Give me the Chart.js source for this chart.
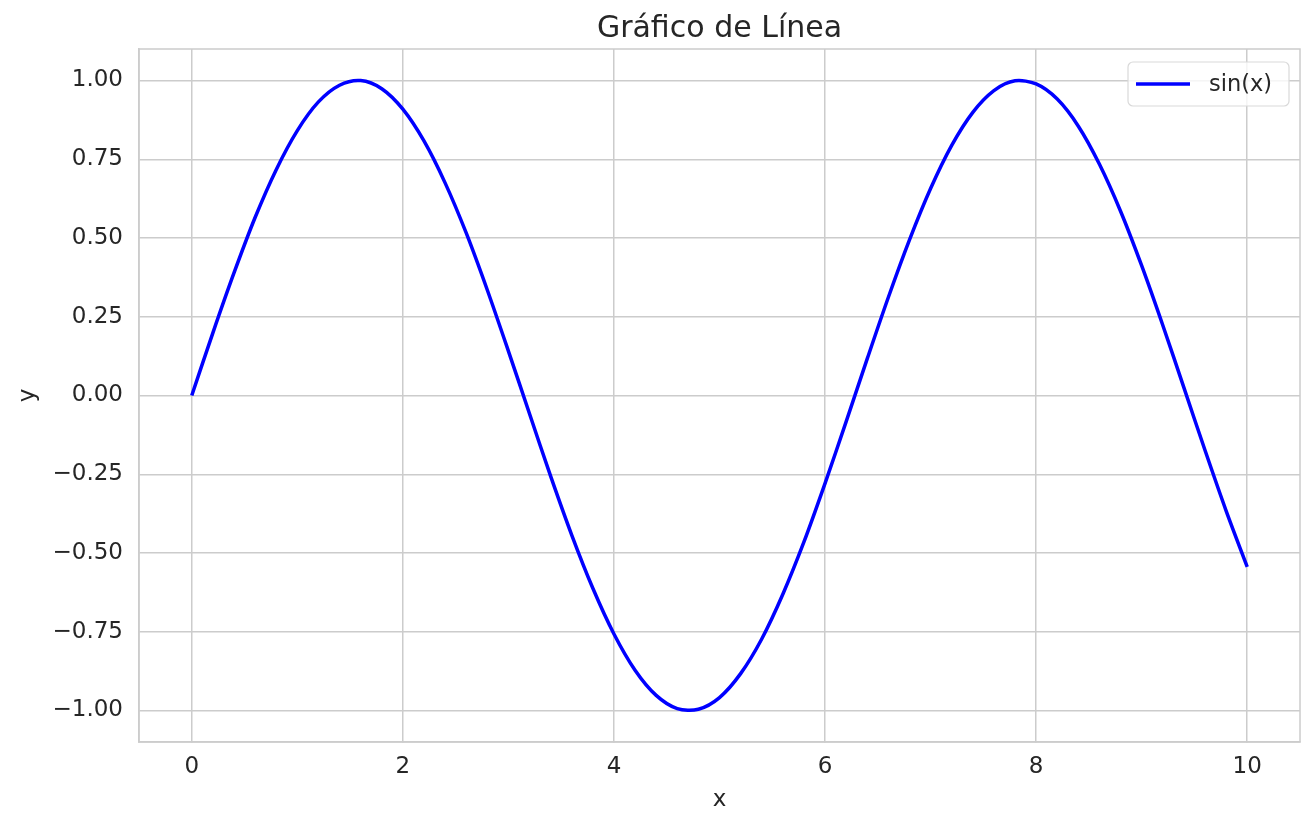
<!DOCTYPE html>
<html>
<head>
<meta charset="utf-8">
<script src="https://cdn.jsdelivr.net/npm/chart.js@4.4.1/dist/chart.umd.min.js"></script>
<style>
  html, body { margin: 0; padding: 0; background: #ffffff; }
  #wrap { width: 1316px; height: 829px; }
</style>
</head>
<body>
<div id="wrap"><canvas id="grafico" width="1316" height="829"></canvas></div>
<script>
// valores
const xValues = [0, 0.2, 0.4, 0.6, 0.8, 1.0, 1.2, 1.4, 1.6, 1.8, 2.0, 2.2, 2.4, 2.6, 2.8, 3.0,
  3.2, 3.4, 3.6, 3.8, 4.0, 4.2, 4.4, 4.6, 4.8, 5.0, 5.2, 5.4, 5.6, 5.8, 6.0, 6.2, 6.4, 6.6,
  6.8, 7.0, 7.2, 7.4, 7.6, 7.8, 8.0, 8.2, 8.4, 8.6, 8.8, 9.0, 9.2, 9.4, 9.6, 9.8, 10.0];
const sinValues = [0, 0.199, 0.389, 0.565, 0.717, 0.841, 0.932, 0.985, 1.000, 0.974, 0.909,
  0.808, 0.675, 0.516, 0.335, 0.141, -0.058, -0.256, -0.443, -0.612, -0.757, -0.872, -0.952,
  -0.994, -0.996, -0.959, -0.883, -0.773, -0.631, -0.465, -0.279, -0.083, 0.117, 0.312, 0.494,
  0.657, 0.794, 0.899, 0.968, 0.999, 0.989, 0.941, 0.855, 0.734, 0.585, 0.412, 0.223, 0.025,
  -0.174, -0.366, -0.544];
const xTicks = [0, 2, 4, 6, 8, 10];
const yTicks = [-1.00, -0.75, -0.50, -0.25, 0.00, 0.25, 0.50, 0.75, 1.00];
const chartTitle = 'Gráfico de Línea';

const FONT = "'DejaVu Sans', sans-serif";
const TEXT = '#262626';
const GRID = '#cccccc';

// marco completo del área (spines arriba y derecha)
const spines = {
    id: 'spines',
    beforeDatasetsDraw(chart) {
        const a = chart.chartArea;
        const ctx = chart.ctx;
        ctx.save();
        ctx.strokeStyle = GRID;
        ctx.lineWidth = 1.5;
        ctx.strokeRect(a.left, a.top, a.right - a.left, a.bottom - a.top);
        ctx.restore();
    }
};

// título centrado sobre el área de trazado (como matplotlib)
const axesTitle = {
    id: 'axesTitle',
    afterDraw(chart) {
        const a = chart.chartArea;
        const ctx = chart.ctx;
        ctx.save();
        ctx.fillStyle = TEXT;
        ctx.font = '30px ' + FONT;
        ctx.textAlign = 'center';
        ctx.textBaseline = 'middle';
        ctx.fillText(chartTitle, (a.left + a.right) / 2, 29);
        ctx.restore();
    }
};

// leyenda con caja, estilo matplotlib
const legendBox = {
    id: 'legendBox',
    afterDatasetsDraw(chart) {
        const ctx = chart.ctx;
        const area = chart.chartArea;
        const ds = chart.data.datasets[0];
        const w = 161, h = 44;
        const x = area.right - 11 - w, y = area.top + 13;
        ctx.save();
        ctx.fillStyle = 'rgba(255,255,255,0.8)';
        ctx.strokeStyle = '#d9d9d9';
        ctx.lineWidth = 1.2;
        ctx.beginPath();
        ctx.roundRect(x, y, w, h, 5);
        ctx.fill();
        ctx.stroke();
        ctx.strokeStyle = ds.borderColor;
        ctx.lineWidth = 3.5;
        ctx.beginPath();
        ctx.moveTo(x + 8, y + h / 2);
        ctx.lineTo(x + 62, y + h / 2);
        ctx.stroke();
        ctx.fillStyle = TEXT;
        ctx.font = '22.5px ' + FONT;
        ctx.textBaseline = 'middle';
        ctx.fillText(ds.label, x + 81, y + h / 2 + 1);
        ctx.restore();
    }
};

const ctx = document.getElementById('grafico').getContext('2d');

const chart = new Chart(ctx, {
    type: 'line',
    data: {
        datasets: [{
            label: 'sin(x)',
            data: xValues.map((x, i) => ({ x: x, y: sinValues[i] })),
            borderColor: '#0000ff',
            borderWidth: 3.5,
            pointRadius: 0,
            fill: false,
            tension: 0.3
        }]
    },
    options: {
        responsive: false,
        animation: false,
        layout: { padding: { left: 0, right: 16, top: 49, bottom: 0 } },
        plugins: {
            legend: { display: false },
            tooltip: { enabled: false },
            title: { display: false }
        },
        scales: {
            x: {
                type: 'linear',
                min: -0.5,
                max: 10.5,
                afterBuildTicks: axis => { axis.ticks = xTicks.map(v => ({ value: v })); },
                afterFit: axis => { axis.height = 87; },
                ticks: {
                    color: TEXT,
                    font: { family: FONT, size: 23 },
                    padding: 11,
                    maxRotation: 0,
                    callback: v => String(v)
                },
                grid: { color: GRID, lineWidth: 1.5, tickLength: 0 },
                border: { color: GRID, width: 1.5 },
                title: {
                    display: true,
                    text: 'x',
                    color: TEXT,
                    font: { family: FONT, size: 23 },
                    padding: { top: 4, bottom: 15 }
                }
            },
            y: {
                type: 'linear',
                min: -1.1,
                max: 1.1,
                afterBuildTicks: axis => { axis.ticks = yTicks.map(v => ({ value: v })); },
                afterFit: axis => { axis.width = 139; },
                ticks: {
                    color: TEXT,
                    font: { family: FONT, size: 23 },
                    padding: 16,
                    callback: v => (v < 0 ? '\u2212' : '') + Math.abs(v).toFixed(2)
                },
                grid: { color: GRID, lineWidth: 1.5, tickLength: 0 },
                border: { color: GRID, width: 1.5 },
                title: {
                    display: true,
                    text: 'y',
                    color: TEXT,
                    font: { family: FONT, size: 23 },
                    padding: { top: 14, bottom: 4 }
                }
            }
        }
    },
    plugins: [spines, axesTitle, legendBox]
});
</script>
</body>
</html>
